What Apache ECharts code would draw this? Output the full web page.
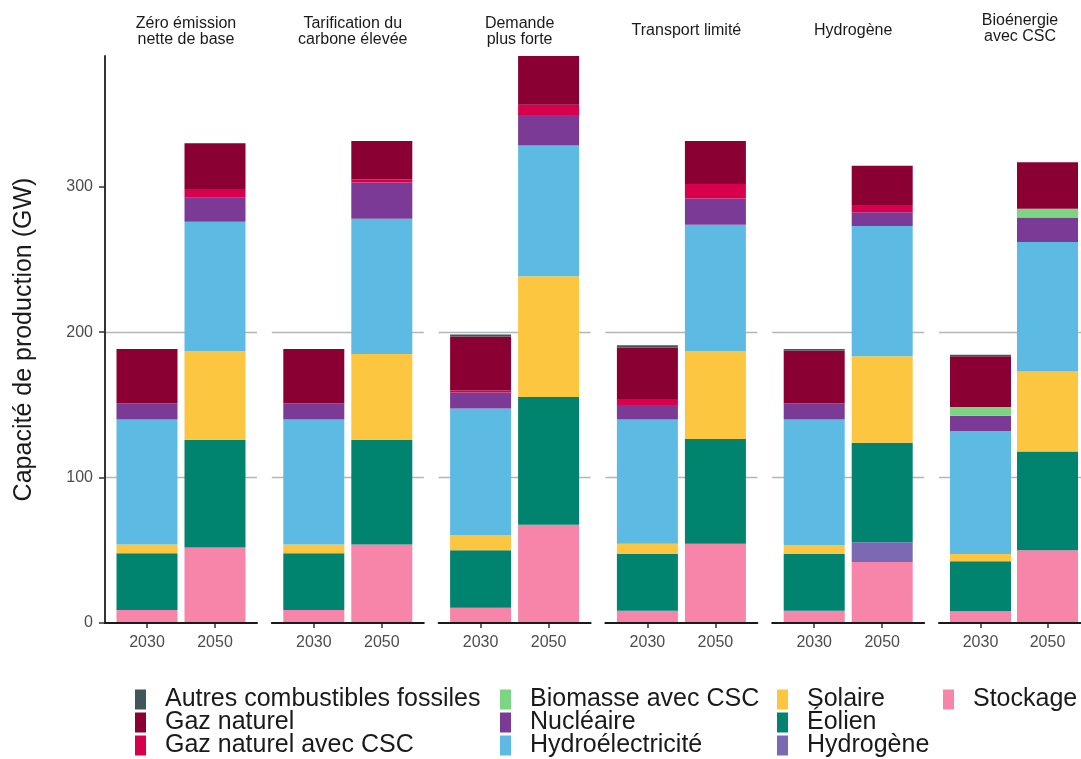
<!DOCTYPE html>
<html>
<head>
<meta charset="utf-8">
<script src="https://cdn.jsdelivr.net/npm/echarts@6/dist/echarts.min.js"></script>
<style>
html,body{margin:0;padding:0;background:#fff;}
#chart{width:1081px;height:759px;}
</style>
</head>
<body>
<div id="chart"></div>
<script>
// ---- Data (GW), order per scenario: [2030, 2050] ----
const scenarios = ['Zéro émission\nnette de base', 'Tarification du\ncarbone élevée', 'Demande\nplus forte', 'Transport limité', 'Hydrogène', 'Bioénergie\navec CSC'];
const years = ['2030', '2050'];
const yTicks = [0, 100, 200, 300];

const stockage  = [9, 52,   9, 54,   10.5, 67.5, 8.5, 54.5, 8.5, 42,   8,    50];
const hydrogene = [0, 0,    0, 0,    0, 0,       0, 0,      0, 13.5,   0,    0];
const eolien    = [39, 74,  39, 72,  39.5, 88,   39, 72,    39, 68.5,  34.5, 68];
const solaire   = [6, 61,   6, 59,   10.5, 83,   7, 60.5,   6, 59.5,   5,    55];
const hydro     = [86, 89,  86, 93,  87, 90,     85.5, 87,  86.5, 89.5, 84.5, 89];
const nucleaire = [11, 16.5, 11, 25, 11, 21,     10, 18,    11, 9.5,   10.5, 17];
const biomasse  = [0, 0,    0, 0,    0, 0,       0, 0,      0, 0,      6,    6];
const gazCSC    = [0, 6,    0, 2,    1.5, 7,     4, 10,     0, 5,      0,    0];
const gaz       = [37.5, 31.5, 37.5, 26.5, 37, 33.5, 35.5, 29.5, 36.5, 27, 35, 32];
const autres    = [0, 0,    0, 0,    1.5, 0,     1.5, 0,    1, 0,      1,    0];

// stacking order: bottom -> top
const techs = [
  {name: 'Stockage', values: stockage, color: '#f685a9'},
  {name: 'Hydrogène', values: hydrogene, color: '#7b6ab3'},
  {name: 'Éolien', values: eolien, color: '#00836f'},
  {name: 'Solaire', values: solaire, color: '#fcc640'},
  {name: 'Hydroélectricité', values: hydro, color: '#5dbbe3'},
  {name: 'Nucléaire', values: nucleaire, color: '#7a3a96'},
  {name: 'Biomasse avec CSC', values: biomasse, color: '#7ad681'},
  {name: 'Gaz naturel avec CSC', values: gazCSC, color: '#d8004d'},
  {name: 'Gaz naturel', values: gaz, color: '#8a0033'},
  {name: 'Autres combustibles fossiles', values: autres, color: '#3f5757'}
];

// legend layout (columns as in the reference)
const legendCols = [
  ['Autres combustibles fossiles', 'Gaz naturel', 'Gaz naturel avec CSC'],
  ['Biomasse avec CSC', 'Nucléaire', 'Hydroélectricité'],
  ['Solaire', 'Éolien', 'Hydrogène'],
  ['Stockage']
];

const FONT = 'Liberation Sans, Arial, sans-serif';
const panelLeft0 = 105, panelStep = 166.8, panelW = 152, gridTop = 56, gridH = 567;
const bandInset = 8; // category band layout inside the panel
const yMax = 390;

const grids = [], xAxes = [], yAxes = [], series = [], titles = [], legends = [];

scenarios.forEach((sc, p) => {
  const left = panelLeft0 + p * panelStep;
  // frame grid (axis lines, gridlines, y labels): index 2p
  grids.push({left: left, top: gridTop, width: panelW, height: gridH});
  // bars grid: index 2p+1
  grids.push({left: left + bandInset, top: gridTop, width: panelW - 2 * bandInset, height: gridH});

  xAxes.push({
    type: 'value', gridIndex: 2 * p, min: 0, max: 1, z: 5,
    axisLine: {show: true, onZero: false, lineStyle: {color: '#1a1a1a', width: 2}},
    axisTick: {show: false}, axisLabel: {show: false}, splitLine: {show: false}
  });
  yAxes.push({
    type: 'value', gridIndex: 2 * p, min: 0, max: yMax, interval: 100,
    name: p === 0 ? 'Capacité de production (GW)' : '',
    nameLocation: 'middle', nameRotate: 90, nameGap: 68,
    nameTextStyle: {fontSize: 25, color: '#1a1a1a', fontFamily: FONT},
    axisLine: {show: p === 0, lineStyle: {color: '#333', width: 2}},
    axisTick: {show: p === 0, customValues: yTicks, length: 6, lineStyle: {color: '#333', width: 1.5}},
    axisLabel: {show: p === 0, customValues: yTicks, fontSize: 16, color: '#4d4d4d', fontFamily: FONT, margin: 12},
    splitLine: {show: true, showMinLine: false, showMaxLine: false, lineStyle: {color: '#b5b5b5', width: 1.4}}
  });

  xAxes.push({
    type: 'category', gridIndex: 2 * p + 1, data: years,
    axisLine: {show: false},
    axisTick: {show: true, alignWithLabel: true, length: 5, lineStyle: {color: '#333', width: 1.5}},
    axisLabel: {show: true, fontSize: 16, color: '#4d4d4d', fontFamily: FONT, margin: 12},
    splitLine: {show: false}
  });
  yAxes.push({
    type: 'value', gridIndex: 2 * p + 1, min: 0, max: yMax, show: false, splitLine: {show: false}
  });

  const twoLines = sc.indexOf('\n') >= 0;
  let top = twoLines ? 11 : 18;
  if (p === 5) top = 8;
  titles.push({
    text: sc, left: left + panelW / 2, top: top, textAlign: 'center',
    textStyle: {fontSize: 16, fontWeight: 'normal', color: '#1a1a1a', fontFamily: FONT, lineHeight: 16}
  });
  techs.forEach(t => {
    series.push({
      type: 'bar', name: t.name, xAxisIndex: 2 * p + 1, yAxisIndex: 2 * p + 1, stack: 'p' + p,
      barWidth: 61,
      data: years.map((y, k) => t.values[p * 2 + k]),
      itemStyle: {color: t.color},
      silent: true
    });
  });
});

const colX = [135, 500, 777, 943];
const rowTop = [687, 710, 733];
legendCols.forEach((col, c) => {
  col.forEach((name, r) => {
    legends.push({
      data: [name], left: colX[c], top: rowTop[r], orient: 'vertical', padding: 0,
      icon: 'rect', itemWidth: 11, itemHeight: 20, selectedMode: false,
      textStyle: {fontSize: 25, color: '#1a1a1a', fontFamily: FONT, lineHeight: 20, padding: [0, 0, 0, 14]}
    });
  });
});

const chart = echarts.init(document.getElementById('chart'), null, {renderer: 'canvas'});
chart.setOption({
  backgroundColor: '#fff',
  animation: false,
  title: titles,
  legend: legends,
  grid: grids,
  xAxis: xAxes,
  yAxis: yAxes,
  series: series
});
</script>
</body>
</html>
